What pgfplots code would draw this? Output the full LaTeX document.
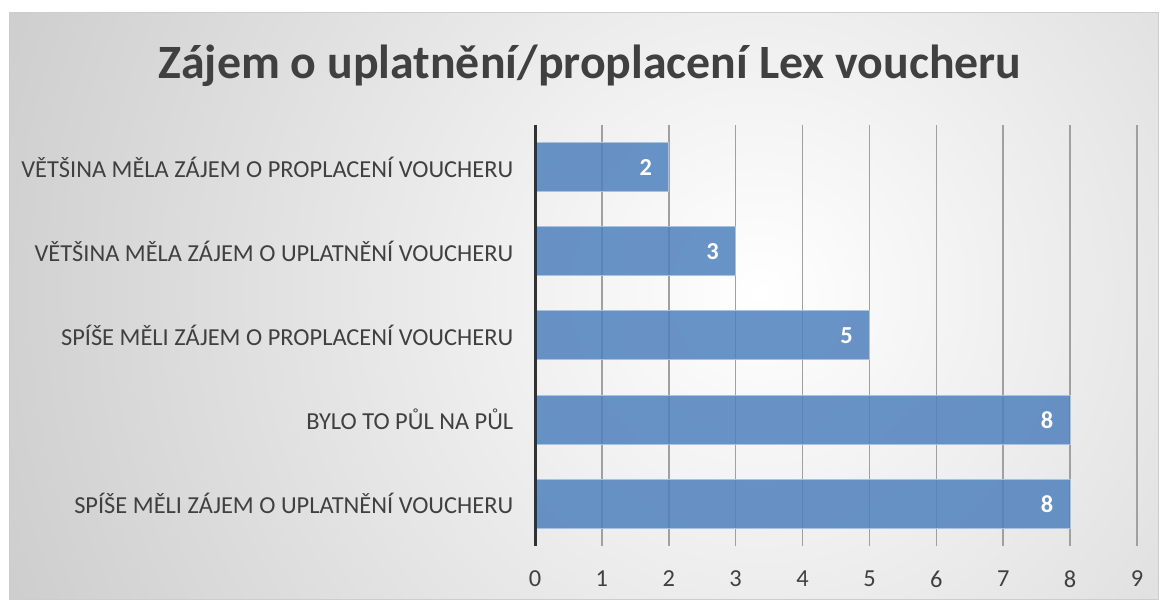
\documentclass[border=0pt]{standalone}
\usepackage{pgfplots}
\pgfplotsset{compat=1.18}
\usepackage{fontspec}
\setmainfont{Carlito}
\definecolor{barblue}{RGB}{79,129,189}
\definecolor{txt}{RGB}{64,64,64}
\definecolor{axc}{RGB}{50,50,50}
\definecolor{gridc}{RGB}{160,160,160}
\definecolor{bordc}{RGB}{205,205,205}
\definecolor{outerg}{RGB}{185,185,185}
\begin{document}
\begin{tikzpicture}
\useasboundingbox (0bp,0bp) rectangle (1162bp,602bp);
\fill[white] (0bp,0bp) rectangle (1162bp,602bp);
\begin{scope}
\clip (9bp,2bp) rectangle (1158bp,589bp);
\shade[inner color=white, outer color=outerg] (760bp,310bp) circle (1150bp);
\end{scope}
\draw[bordc, line width=1bp] (9bp,2bp) rectangle (1158bp,589bp);
\node[font=\fontsize{48}{52}\selectfont\bfseries, text=txt] at (590bp,536bp) {Zájem o uplatnění/proplacení Lex voucheru};
\begin{axis}[
  at={(535bp,56bp)}, anchor=south west,
  scale only axis, width=602bp, height=421bp,
  xmin=0, xmax=9, ymin=0.5, ymax=5.5,
  clip=false,
  xbar, bar width=49bp,
  axis line style={draw=none},
  tick style={draw=none},
  xtick={1,2,3,4,5,6,7,8,9},
  extra x ticks={0},
  extra x tick style={grid style={axc, line width=3bp}},
  ytick={1,2,3,4,5},
  yticklabels={SPÍŠE MĚLI ZÁJEM O UPLATNĚNÍ VOUCHERU, BYLO TO PŮL NA PŮL, SPÍŠE MĚLI ZÁJEM O PROPLACENÍ VOUCHERU, VĚTŠINA MĚLA ZÁJEM O UPLATNĚNÍ VOUCHERU, VĚTŠINA MĚLA ZÁJEM O PROPLACENÍ VOUCHERU},
  xmajorgrids, major grid style={gridc, line width=1.6bp},
  /pgf/number format/assume math mode=true,
  xticklabel style={font=\fontsize{24.5}{26}\selectfont, text=txt, yshift=-21bp},
  yticklabel style={font=\fontsize{24.5}{26}\selectfont, text=txt, xshift=-14bp},
  nodes near coords,
  nodes near coords style={anchor=east, xshift=-13bp, text=white, font=\fontsize{24.5}{26}\selectfont\bfseries},
]
\addplot[fill=barblue, fill opacity=0.85, draw={rgb,255:red,165;green,195;blue,228}, line width=1bp, text opacity=1]
  coordinates {(8,1) (8,2) (5,3) (3,4) (2,5)};
\draw[axc, line width=3bp] (axis cs:0,0.5) -- (axis cs:0,5.5);
\end{axis}
\end{tikzpicture}
\end{document}
